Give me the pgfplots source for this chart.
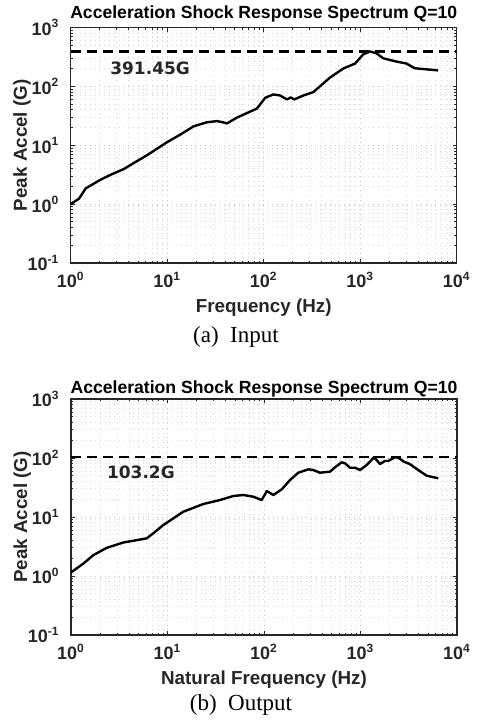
\documentclass[border=0pt]{standalone}
\usepackage{fontspec}
\setmainfont{Liberation Serif}
\setsansfont{Liberation Sans}
\newfontfamily\annfont{DejaVu Sans}
\usepackage{pgfplots}
\usepackage{pgfplotstable}
\pgfplotsset{compat=1.18}

\newcommand{\tk}[1]{10\textsuperscript{#1}}

\pgfplotstableread{
f A
1.0 1.0
1.22 1.24
1.43 1.85
2.04 2.6
2.59 3.15
3.56 3.95
4.51 5.0
6.2 6.8
10 11.3
13.7 15.2
18.8 21.0
25.9 24.6
32.8 25.7
38 24.5
41.7 23.5
52.8 29.5
85 42
103.7 64
126 73
148 70
174 60
191 65
207 60
258 70
327 80
486 141
668 201
884 244
1077 350
1262 391.45
1475 365
1730 300
2378 264
3020 244
3680 203
6410 187
}\inputsrs

\pgfplotstableread{
f A
1.0 1.15
1.34 1.62
1.70 2.25
2.34 3.0
3.49 3.7
4.8 4.05
6.09 4.35
7.13 5.3
9.04 7.3
11.5 9.5
14.6 12.3
23.5 16.6
35 19.4
48 22.7
61 23.6
77.5 22.1
94.6 19.4
107 27.5
125 23.6
153 29.5
186 42.4
227 56.4
288 64.3
323 62.6
380 56.4
483 58.6
544 69.5
638 84.5
692 81.3
779 68.5
877 68.5
988 62.6
1159 76.1
1271 88.9
1380 103.2
1467 92.5
1592 79
1786 88.9
1929 88.9
2277 103.2
2460 101
2825 86.5
3240 79
3970 62.6
4850 50.1
6400 45.3
}\outputsrs

\pgfplotsset{/pgfplots/srsaxis/.style={
  scale only axis, width=193pt,
  xmin=1, xmax=10000, ymin=0.1, ymax=1000,
  xtick={1,10,100,1000,10000},
  xticklabels={\tk{0},\tk{1},\tk{2},\tk{3},\tk{4}},
  ytick={0.1,1,10,100,1000},
  yticklabels={\tk{-1},\tk{0},\tk{1},\tk{2},\tk{3}},
  grid=both,
  major grid style={dotted, gray!45},
  minor grid style={dotted, gray!30},
  axis line style={line width=0.6pt, black!85},
  tick style={black!85, line width=0.4pt},
  major tick length=2pt, minor tick length=1.2pt,
  ticklabel style={font=\sffamily\bfseries\fontsize{9}{10}\selectfont, text=black!85},
  xticklabel style={anchor=base, yshift=-12.5pt},
  yticklabel style={anchor=east, xshift=-2.2pt},
  label style={font=\sffamily\bfseries\fontsize{9.4}{10}\selectfont, text=black!85},
  every axis title shift=0pt,
  title style={font=\sffamily\bfseries\fontsize{8.8}{10}\selectfont, text=black,
    at={(axis description cs:0.5,1)}, anchor=base, inner sep=0pt},
  xlabel style={at={(axis description cs:0.5,0)}, anchor=base, inner sep=0pt, yshift=-25pt},
  ylabel style={at={(axis description cs:-0.1135,0.5)}, anchor=base, inner sep=0pt},
  ylabel={Peak Accel (G)},
  title={Acceleration Shock Response Spectrum Q=10},
}}

\begin{document}
\begin{tikzpicture}
\path[use as bounding box] (0,0) rectangle (239pt,362pt);

\begin{loglogaxis}[srsaxis, height=117.75pt,
  at={(35.35pt,230.5pt)}, anchor=south west,
  xlabel={Frequency (Hz)},
  title style={yshift=4.4pt}]
\addplot[black, line width=1.1pt, dash pattern=on 5pt off 3pt]
  coordinates {(1,391.45) (10000,391.45)};
\addplot[black, line width=1.2pt, line join=round] table[x=f, y=A] {\inputsrs};
\node[font=\annfont\bfseries\fontsize{8.5}{10}\selectfont, text=black!85, anchor=base west, inner sep=0pt]
  at (axis cs:2.55,162) {391.45G};
\end{loglogaxis}

\begin{loglogaxis}[srsaxis, height=118pt,
  at={(35.5pt,44.5pt)}, anchor=south west,
  xlabel={Natural Frequency (Hz)},
  title style={yshift=3pt}]
\addplot[black, line width=1.1pt, dash pattern=on 5pt off 3pt]
  coordinates {(1,103.2) (10000,103.2)};
\addplot[black, line width=1.2pt, line join=round] table[x=f, y=A] {\outputsrs};
\node[font=\annfont\bfseries\fontsize{8.5}{10}\selectfont, text=black!85, anchor=base west, inner sep=0pt]
  at (axis cs:2.34,45.3) {103.2G};
\end{loglogaxis}

\node[font=\fontsize{11.5}{13}\selectfont, anchor=base] at (118pt,190.5pt) {(a)\ \ Input};
\node[font=\fontsize{11.5}{13}\selectfont, anchor=base] at (120.5pt,6.5pt) {(b)\ \ Output};
\end{tikzpicture}
\end{document}
